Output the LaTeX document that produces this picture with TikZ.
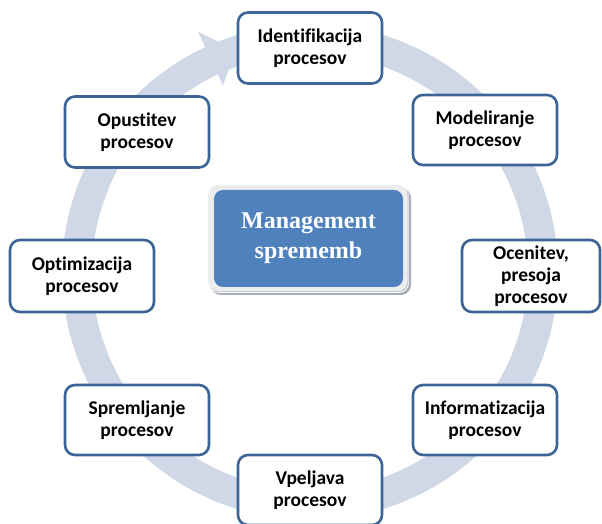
\documentclass[tikz,border=0pt]{standalone}
\usepackage{fontspec}
\usetikzlibrary{calc}
\setmainfont{Carlito}[Ligatures=NoCommon]
\newfontfamily\titlefont{Liberation Serif}
\definecolor{ringblue}{HTML}{D0D8E8}
\definecolor{boxline}{HTML}{3C6496}
\definecolor{centerblue}{HTML}{4F81BD}
\definecolor{framegray}{HTML}{EDEDED}
\definecolor{shadowgray}{HTML}{A7ADB8}
\begin{document}
\begin{tikzpicture}[x=1pt,y=1pt,
  stagebox/.style={draw=boxline, line width=2.6pt, fill=white, rounded corners=10pt,
    minimum width=#1, align=center, inner sep=0pt,
    font=\fontsize{19.5}{22}\selectfont\bfseries},
  stagebox/.default=144pt]
\useasboundingbox (0,0) rectangle (602,524);
\coordinate (c) at (310,252);
% circular arrow running clockwise behind the stages
\fill[ringblue] ($(c)+(115:248)$) arc[start angle=115, end angle=-275, radius=248]
  -- ($(c)+(85:218)$) arc[start angle=-275, end angle=115, radius=218]
  -- ($(c)+(115:206)$) -- ($(c)+(108.5:234)$) -- ($(c)+(115:265)$) -- cycle;
% stages
\node[stagebox, minimum height=71pt] (id) at (310,476) {Identifikacija\\procesov};
\node[stagebox, minimum height=70pt] (mod) at (485,394) {Modeliranje\\procesov};
\node[stagebox=138pt, minimum height=72pt] (oce) at (531,248) {Ocenitev,\\presoja\\procesov};
\node[stagebox, minimum height=70pt] (inf) at (485,104) {Informatizacija\\procesov};
\node[stagebox, minimum height=70pt] (vpe) at (310,34) {Vpeljava\\procesov};
\node[stagebox, minimum height=70pt] (spr) at (137,104) {Spremljanje\\procesov};
\node[stagebox, minimum height=72pt] (opt) at (82,248) {Optimizacija\\procesov};
\node[stagebox, minimum height=71pt] (opu) at (137,392) {Opustitev\\procesov};
% central box with frame and shadow
\fill[shadowgray, rounded corners=10pt] (211,229) rectangle (411,336);
\fill[white, rounded corners=10pt] (209.5,231) rectangle (409,337.5);
\fill[shadowgray!70, rounded corners=10pt] (209,232) rectangle (408.5,338);
\fill[framegray, rounded corners=10pt] (208,233) rectangle (407.5,339);
\node[fill=centerblue, rounded corners=9pt, minimum width=189pt, minimum height=97pt,
  text=white, align=center, inner sep=0pt,
  font=\titlefont\fontsize{24}{30}\selectfont\bfseries] (mgmt) at (308.5,285.5)
  {Management\\sprememb};
\end{tikzpicture}
\end{document}
